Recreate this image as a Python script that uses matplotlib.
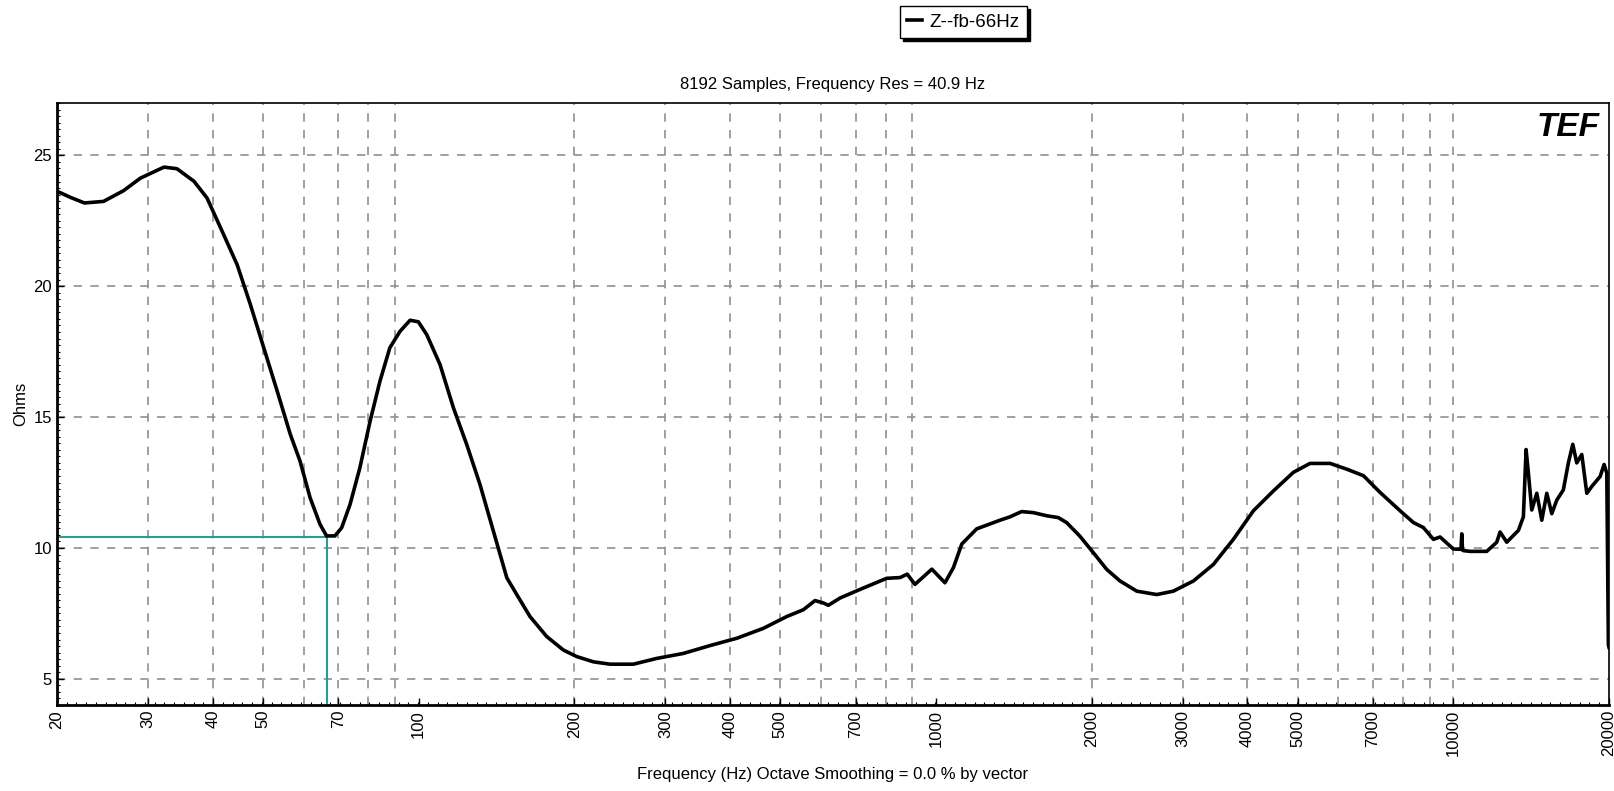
import numpy as np
import matplotlib
matplotlib.use("Agg")
import matplotlib.pyplot as plt
from matplotlib.ticker import FixedLocator, NullFormatter

plt.rcParams['font.family'] = ['Liberation Sans', 'DejaVu Sans']

# impedance curve (Hz, ohms)
freq = [20, 21.2, 22.6, 24.6, 26.9, 29.0, 32.2, 34.1, 36.8, 39.0, 42.0, 44.6,
        47.3, 50.2, 53.3, 56.5, 59.0, 61.7, 64.5, 66.4, 68.9, 71.0, 73.7, 77.0,
        80.6, 84.2, 88.0, 92.1, 96.3, 99.9, 103.7, 110.0, 116.8, 123.9, 131.4,
        141.6, 148.1, 154.8, 164.2, 176.8, 190.5, 202.2, 217.8, 234.5, 260.1,
        288.6, 324.8, 365.8, 412.1, 464.0, 514.7, 554.3, 583.9, 605.9, 619.5,
        653, 714, 803, 853, 880, 911, 982, 1041, 1081, 1122, 1199, 1330, 1391,
        1464, 1543, 1638, 1724, 1789, 1896, 2015, 2139, 2269, 2445, 2672, 2877,
        3146, 3438, 3758, 4108, 4491, 4909, 5286, 5780, 6226, 6706, 7222, 7894,
        8376, 8756, 9154, 9430, 10006, 10350, 10387, 10420, 10460, 10776,
        11607, 12135, 12316, 12689, 13362, 13663, 13828, 13971, 14183, 14503,
        14830, 15163, 15504, 15853, 16324, 16692, 17022, 17327, 17719, 18119,
        18525, 19224, 19569, 19804, 19945, 20000]
ohms = [23.63, 23.40, 23.18, 23.24, 23.65, 24.13, 24.55, 24.49, 24.01, 23.37,
        21.97, 20.82, 19.30, 17.65, 15.99, 14.34, 13.32, 11.92, 10.90, 10.46,
        10.46, 10.77, 11.66, 13.06, 14.85, 16.37, 17.65, 18.28, 18.70, 18.64,
        18.15, 17.01, 15.35, 13.95, 12.43, 10.20, 8.86, 8.22, 7.38, 6.62, 6.10,
        5.85, 5.65, 5.56, 5.56, 5.78, 5.97, 6.27, 6.55, 6.93, 7.38, 7.64, 7.99,
        7.90, 7.81, 8.09, 8.42, 8.84, 8.87, 9.0, 8.61, 9.19, 8.67, 9.25, 10.15,
        10.73, 11.06, 11.19, 11.39, 11.35, 11.23, 11.16, 10.97, 10.46, 9.82,
        9.18, 8.74, 8.35, 8.22, 8.35, 8.74, 9.37, 10.33, 11.42, 12.18, 12.89,
        13.23, 13.23, 13.01, 12.76, 12.12, 11.42, 10.97, 10.78, 10.33, 10.42,
        9.96, 9.95, 10.54, 9.92, 9.9, 9.87, 9.87, 10.22, 10.61, 10.22, 10.67,
        11.19, 13.76, 12.86, 11.45, 12.09, 11.06, 12.09, 11.31, 11.83, 12.22,
        13.25, 13.96, 13.25, 13.57, 12.09, 12.35, 12.73, 13.19, 12.86, 6.29,
        6.2]

fb_freq = 66.4
fb_ohms = 10.43

major_labels = [20, 30, 40, 50, 70, 100, 200, 300, 400, 500, 700, 1000,
                2000, 3000, 4000, 5000, 7000, 10000, 20000]
grid_freqs = [m * d for d in (10, 100, 1000) for m in range(2, 10)] + [10000, 20000]
y_ticks = [5, 10, 15, 20, 25]

fig = plt.figure(figsize=(16.14, 7.91), dpi=100)
ax = fig.add_axes([0.0353, 0.1087, 0.9616, 0.7611])

ax.set_xscale('log')
ax.set_xlim(20, 20000)
ax.set_ylim(4, 27)

# dashed grid
for g in grid_freqs:
    if 20 < g < 20000:
        ax.axvline(g, color='#909090', ls=(0, (5, 5)), lw=1.2, zorder=1)
for y in y_ticks:
    ax.axhline(y, color='#909090', ls=(0, (5, 5)), lw=1.2, zorder=1)

# cursor at fb
ax.plot([20, fb_freq], [fb_ohms, fb_ohms], color='#2a9a9a', lw=1.5, zorder=2)
ax.plot([fb_freq, fb_freq], [4, fb_ohms], color='#2a9a9a', lw=1.5, zorder=2)

ax.plot(freq, ohms, color='black', lw=2.6, label='Z--fb-66Hz', zorder=3,
        solid_joinstyle='round')

ax.xaxis.set_major_locator(FixedLocator(major_labels))
ax.set_xticklabels([str(v) for v in major_labels], rotation=90, fontsize=12)
ax.xaxis.set_minor_locator(FixedLocator(np.geomspace(20, 20000, 160)))
ax.xaxis.set_minor_formatter(NullFormatter())
ax.set_yticks(y_ticks)
ax.set_yticklabels([str(v) for v in y_ticks], fontsize=12)
ax.yaxis.set_minor_locator(FixedLocator(np.arange(4, 27.01, 0.25)))
ax.tick_params(axis='both', which='major', direction='in', length=5, width=1)
ax.tick_params(axis='both', which='minor', direction='in', length=2, width=0.8)

for side in ('left', 'bottom'):
    ax.spines[side].set_linewidth(2)
for side in ('top', 'right'):
    ax.spines[side].set_linewidth(1.2)

ax.set_xlabel('Frequency (Hz) Octave Smoothing = 0.0 % by vector', fontsize=12,
              labelpad=8)
ax.set_ylabel('Ohms', fontsize=12, labelpad=4)
ax.set_title('8192 Samples, Frequency Res = 40.9 Hz', fontsize=12, pad=10)

ax.text(0.994, 0.985, 'TEF', transform=ax.transAxes, ha='right', va='top',
        fontsize=24, fontweight='bold', fontstyle='italic', color='black')

fig.legend(loc='center', bbox_to_anchor=(0.597, 0.972), fontsize=13.5,
           frameon=True, fancybox=False, edgecolor='black', handlelength=0.8,
           handletextpad=0.4, borderpad=0.4,
           shadow={'color': 'black', 'alpha': 1.0})

fig.savefig('out.png', dpi=100)
